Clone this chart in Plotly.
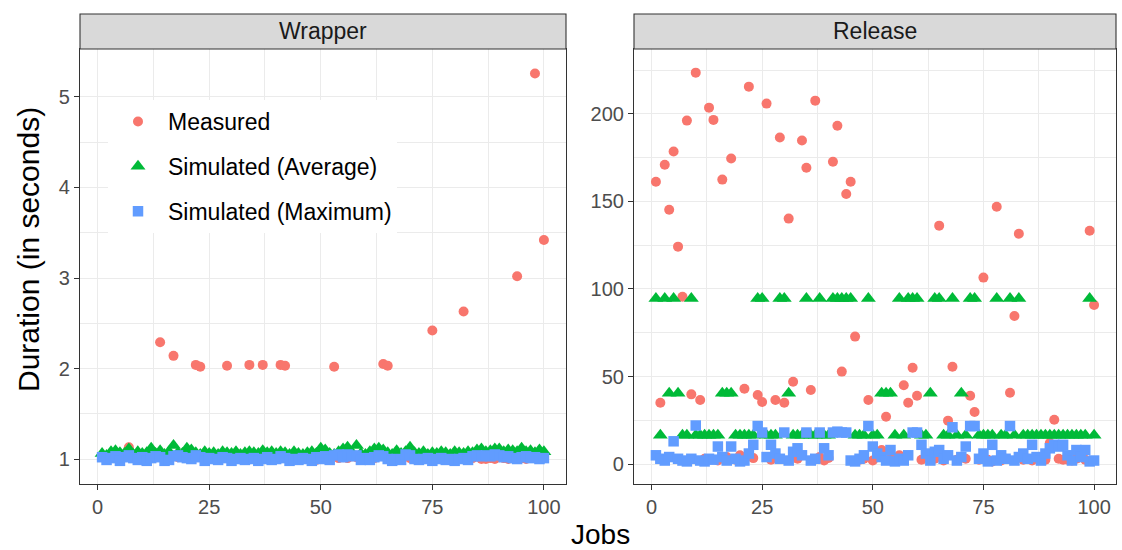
import plotly.graph_objects as go

jobs = list(range(1, 101))

wrapper_measured = [
    1.02, 1.01, 1.03, 1.02, 1.01, 1.02, 1.13, 1.03, 1.02, 1.01,
    1.02, 1.01, 1.03, 2.29, 1.02, 1.01, 2.14, 1.02, 1.03, 1.01,
    1.02, 2.04, 2.02, 1.01, 1.03, 1.02, 1.01, 1.02, 2.03, 1.01,
    1.02, 1.03, 1.01, 2.04, 1.02, 1.01, 2.04, 1.03, 1.02, 1.01,
    2.04, 2.03, 1.02, 1.01, 1.03, 1.02, 1.01, 1.02, 0.99, 1.01,
    1.02, 1.03, 2.02, 1.01, 1.02, 1.01, 1.03, 1.02, 1.01, 1.00,
    1.02, 1.01, 1.03, 2.05, 2.03, 1.02, 1.01, 1.02, 1.03, 1.01,
    1.02, 1.01, 1.03, 1.02, 2.42, 1.01, 1.02, 1.03, 1.01, 1.02,
    1.01, 2.63, 1.02, 1.01, 1.03, 1.00, 1.00, 1.01, 1.00, 1.02,
    1.01, 1.00, 1.02, 3.02, 1.01, 1.00, 1.02, 5.26, 1.01, 3.42]

wrapper_average = [
    1.06, 1.04, 1.08, 1.09, 1.07, 1.06, 1.11, 1.05, 1.08, 1.06,
    1.07, 1.12, 1.06, 1.09, 1.05, 1.08, 1.15, 1.07, 1.06, 1.12,
    1.10, 1.07, 1.05, 1.08, 1.06, 1.07, 1.05, 1.08, 1.07, 1.06,
    1.08, 1.05, 1.07, 1.08, 1.07, 1.06, 1.09, 1.07, 1.08, 1.06,
    1.08, 1.07, 1.05, 1.08, 1.06, 1.05, 1.07, 1.08, 1.06, 1.12,
    1.10, 1.06, 1.05, 1.08, 1.11, 1.13, 1.07, 1.15, 1.06, 1.05,
    1.08, 1.11, 1.12, 1.10, 1.07, 1.05, 1.09, 1.06, 1.08, 1.13,
    1.07, 1.06, 1.08, 1.05, 1.07, 1.06, 1.08, 1.07, 1.05, 1.08,
    1.07, 1.06, 1.08, 1.07, 1.10, 1.11, 1.08, 1.09, 1.11, 1.11,
    1.08, 1.10, 1.09, 1.08, 1.12, 1.08, 1.09, 1.07, 1.10, 1.08]

wrapper_maximum = [
    1.02, 0.99, 1.01, 1.03, 0.98, 1.02, 1.04, 1.01, 0.99, 1.02,
    0.98, 1.01, 1.03, 1.02, 0.98, 0.99, 1.03, 1.04, 1.02, 1.01,
    1.00, 1.04, 1.02, 0.98, 1.01, 1.00, 0.99, 1.02, 1.01, 0.98,
    1.00, 1.01, 0.99, 1.00, 1.01, 0.98, 1.00, 1.02, 0.99, 1.00,
    1.03, 1.01, 0.98, 1.00, 0.99, 1.01, 1.00, 0.98, 1.02, 1.00,
    1.03, 0.99, 1.04, 1.05, 1.02, 1.05, 1.03, 1.04, 0.99, 1.01,
    0.99, 1.02, 1.04, 1.03, 1.00, 0.98, 1.00, 0.99, 1.05, 1.04,
    1.00, 0.99, 1.00, 1.01, 0.98, 1.00, 1.01, 0.99, 1.00, 0.98,
    1.00, 1.01, 0.99, 1.03, 1.04, 1.03, 1.04, 1.03, 1.05, 1.04,
    1.02, 1.03, 1.01, 1.00, 1.02, 1.03, 1.01, 1.02, 1.00, 1.01]

release_measured = [
    161.3, 35.0, 171.0, 145.3, 178.5, 124.2, 95.6, 196.2, 39.8, 223.6,
    36.6, 3.0, 203.6, 196.6, 2.0, 162.5, 4.0, 174.5, 2.5, 5.0,
    43.0, 215.6, 3.4, 39.4, 35.4, 205.9, 2.5, 36.6, 186.5, 35.0,
    140.2, 47.0, 3.0, 184.8, 169.3, 42.3, 207.6, 4.0, 2.0, 3.5,
    172.7, 193.3, 52.8, 154.3, 161.3, 72.8, 2.5, 3.0, 36.6, 2.0,
    4.0, 8.0, 27.0, 3.0, 2.0, 5.0, 45.0, 35.0, 55.0, 39.0,
    2.5, 4.0, 3.0, 3.0, 136.2, 2.0, 24.8, 55.6, 2.5, 4.0,
    3.0, 39.0, 29.7, 2.5, 106.5, 2.5, 1.5, 147.0, 2.0, 3.0,
    40.7, 84.6, 131.6, 2.5, 3.0, 2.0, 4.0, 3.0, 2.5, 12.0,
    25.3, 3.0, 2.5, 2.5, 2.0, 3.0, 4.0, 2.5, 133.3, 90.9]

release_average = [
    94.5, 16.5, 94.5, 40.5, 94.5, 40.5, 16.5, 16.5, 94.5, 16.5,
    16.5, 16.5, 16.5, 16.5, 16.5, 40.5, 40.5, 40.5, 16.5, 16.5,
    16.5, 16.5, 16.5, 94.5, 94.5, 16.5, 16.5, 16.5, 94.5, 94.5,
    40.5, 16.5, 16.5, 16.5, 94.5, 16.5, 16.5, 94.5, 16.5, 16.5,
    94.5, 94.5, 94.5, 94.5, 94.5, 16.5, 16.5, 16.5, 94.5, 16.5,
    16.5, 40.5, 40.5, 40.5, 16.5, 94.5, 16.5, 94.5, 94.5, 94.5,
    16.5, 16.5, 40.5, 94.5, 94.5, 16.5, 16.5, 94.5, 16.5, 40.5,
    16.5, 94.5, 94.5, 16.5, 16.5, 16.5, 16.5, 94.5, 16.5, 16.5,
    94.5, 16.5, 94.5, 16.5, 16.5, 16.5, 16.5, 16.5, 16.5, 16.5,
    16.5, 16.5, 16.5, 16.5, 16.5, 16.5, 16.5, 16.5, 94.5, 16.5]

release_maximum = [
    5.0, 3.0, 2.0, 4.0, 13.0, 3.0, 2.0, 1.5, 3.0, 22.0,
    2.0, 1.5, 3.0, 2.5, 10.0, 4.0, 2.0, 10.0, 3.0, 1.5,
    2.0, 6.0, 11.0, 21.7, 18.0, 4.0, 11.0, 6.0, 3.0, 18.0,
    2.0, 7.0, 9.0, 5.0, 18.0, 2.0, 3.0, 18.0, 9.0, 5.0,
    18.0, 18.5, 18.0, 18.0, 2.0, 1.5, 3.0, 5.0, 21.7, 10.0,
    6.0, 4.0, 2.0, 8.0, 1.5, 3.0, 2.0, 5.0, 18.0, 18.0,
    11.0, 6.0, 2.0, 7.0, 8.0, 3.0, 5.0, 21.0, 2.0, 4.0,
    10.0, 21.7, 21.7, 3.0, 6.0, 1.5, 11.0, 2.0, 5.0, 3.0,
    21.7, 2.0, 4.0, 6.0, 3.0, 11.0, 4.0, 2.0, 6.0, 9.0,
    11.0, 10.0, 11.0, 5.0, 2.0, 8.0, 4.0, 8.0, 1.5, 2.0]

panel_titles = ["Wrapper", "Release"]
series_names = ["Measured", "Simulated (Average)", "Simulated (Maximum)"]
series_colors = ["#F8766D", "#00BA38", "#619CFF"]
series_symbols = ["circle", "triangle-up", "square"]
series_sizes = [10, 13, 10.5]

FONT = "Liberation Sans, Arial, Helvetica, sans-serif"
W, H = 1122, 550

fig = go.Figure()

panels = [
    ("x", "y", [wrapper_measured, wrapper_average, wrapper_maximum]),
    ("x2", "y2", [release_measured, release_average, release_maximum]),
]
for pi, (xa, ya, data) in enumerate(panels):
    for si in range(3):
        fig.add_trace(go.Scatter(
            x=jobs, y=data[si], mode="markers", xaxis=xa, yaxis=ya,
            name=series_names[si], legendgroup=series_names[si],
            showlegend=(pi == 0),
            marker=dict(color=series_colors[si], symbol=series_symbols[si],
                        size=series_sizes[si], line=dict(width=0)),
        ))

# geometry in pixels
pl_left = (80, 566)
pl_right = (634, 1116)
p_top, p_bot = 49, 484
strip_top = 14

def fx(px):
    return px / W

def fy(py):
    return (H - py) / H

axis_common = dict(
    showline=True, mirror=True, linecolor="#333333", linewidth=1.1,
    ticks="outside", tickcolor="#333333", ticklen=5, tickwidth=1.1,
    gridcolor="#EBEBEB", gridwidth=1.4, zeroline=False,
    tickfont=dict(family=FONT, size=20, color="#4D4D4D"),
    showgrid=True,
)

fig.update_layout(
    width=W, height=H,
    margin=dict(l=0, r=0, t=0, b=0),
    paper_bgcolor="white", plot_bgcolor="white",
    xaxis=dict(domain=[fx(pl_left[0]), fx(pl_left[1])], range=[-3.95, 104.95],
               tickvals=[0, 25, 50, 75, 100], anchor="y",
               minor=dict(tickvals=[12.5, 37.5, 62.5, 87.5], showgrid=True,
                          gridcolor="#EBEBEB", gridwidth=0.7, ticks=""),
               **axis_common),
    yaxis=dict(domain=[fy(p_bot), fy(p_top)], range=[0.724, 5.53],
               tickvals=[1, 2, 3, 4, 5], anchor="x",
               minor=dict(tickvals=[1.5, 2.5, 3.5, 4.5], showgrid=True,
                          gridcolor="#EBEBEB", gridwidth=0.7, ticks=""),
               **axis_common),
    xaxis2=dict(domain=[fx(pl_right[0]), fx(pl_right[1])], range=[-3.95, 104.95],
                tickvals=[0, 25, 50, 75, 100], anchor="y2",
                minor=dict(tickvals=[12.5, 37.5, 62.5, 87.5], showgrid=True,
                           gridcolor="#EBEBEB", gridwidth=0.7, ticks=""),
                **axis_common),
    yaxis2=dict(domain=[fy(p_bot), fy(p_top)], range=[-11.4, 237.1],
                tickvals=[0, 50, 100, 150, 200], anchor="x2",
                minor=dict(tickvals=[25, 75, 125, 175, 225], showgrid=True,
                           gridcolor="#EBEBEB", gridwidth=0.7, ticks=""),
                **axis_common),
    legend=dict(
        x=fx(108), y=fy(100), xanchor="left", yanchor="top",
        bgcolor="white", borderwidth=0,
        font=dict(family=FONT, size=23, color="#000000"),
        tracegroupgap=12, itemwidth=50,
    ),
)

shapes = []
annotations = []
for (l, r), title in zip([pl_left, pl_right], panel_titles):
    shapes.append(dict(type="rect", xref="paper", yref="paper",
                       x0=fx(l), x1=fx(r), y0=fy(p_top), y1=fy(strip_top),
                       fillcolor="#D9D9D9", line=dict(color="#333333", width=1.1),
                       layer="above"))
    annotations.append(dict(xref="paper", yref="paper", x=fx((l + r) / 2),
                            y=fy((p_top + strip_top) / 2), text=title,
                            showarrow=False, xanchor="center", yanchor="middle",
                            font=dict(family=FONT, size=23, color="#1A1A1A")))

annotations.append(dict(xref="paper", yref="paper", x=fx(600), y=fy(534),
                        text="Jobs", showarrow=False, xanchor="center",
                        yanchor="middle",
                        font=dict(family=FONT, size=28, color="#000000")))
annotations.append(dict(xref="paper", yref="paper", x=fx(28), y=fy(250),
                        text="Duration (in seconds)", showarrow=False,
                        textangle=-90, xanchor="center", yanchor="middle",
                        font=dict(family=FONT, size=30, color="#000000")))

fig.update_layout(shapes=shapes, annotations=annotations)

fig.write_html("out.html", config={"displayModeBar": False},
               post_script="document.body.style.margin='0';document.body.style.padding='0';")
